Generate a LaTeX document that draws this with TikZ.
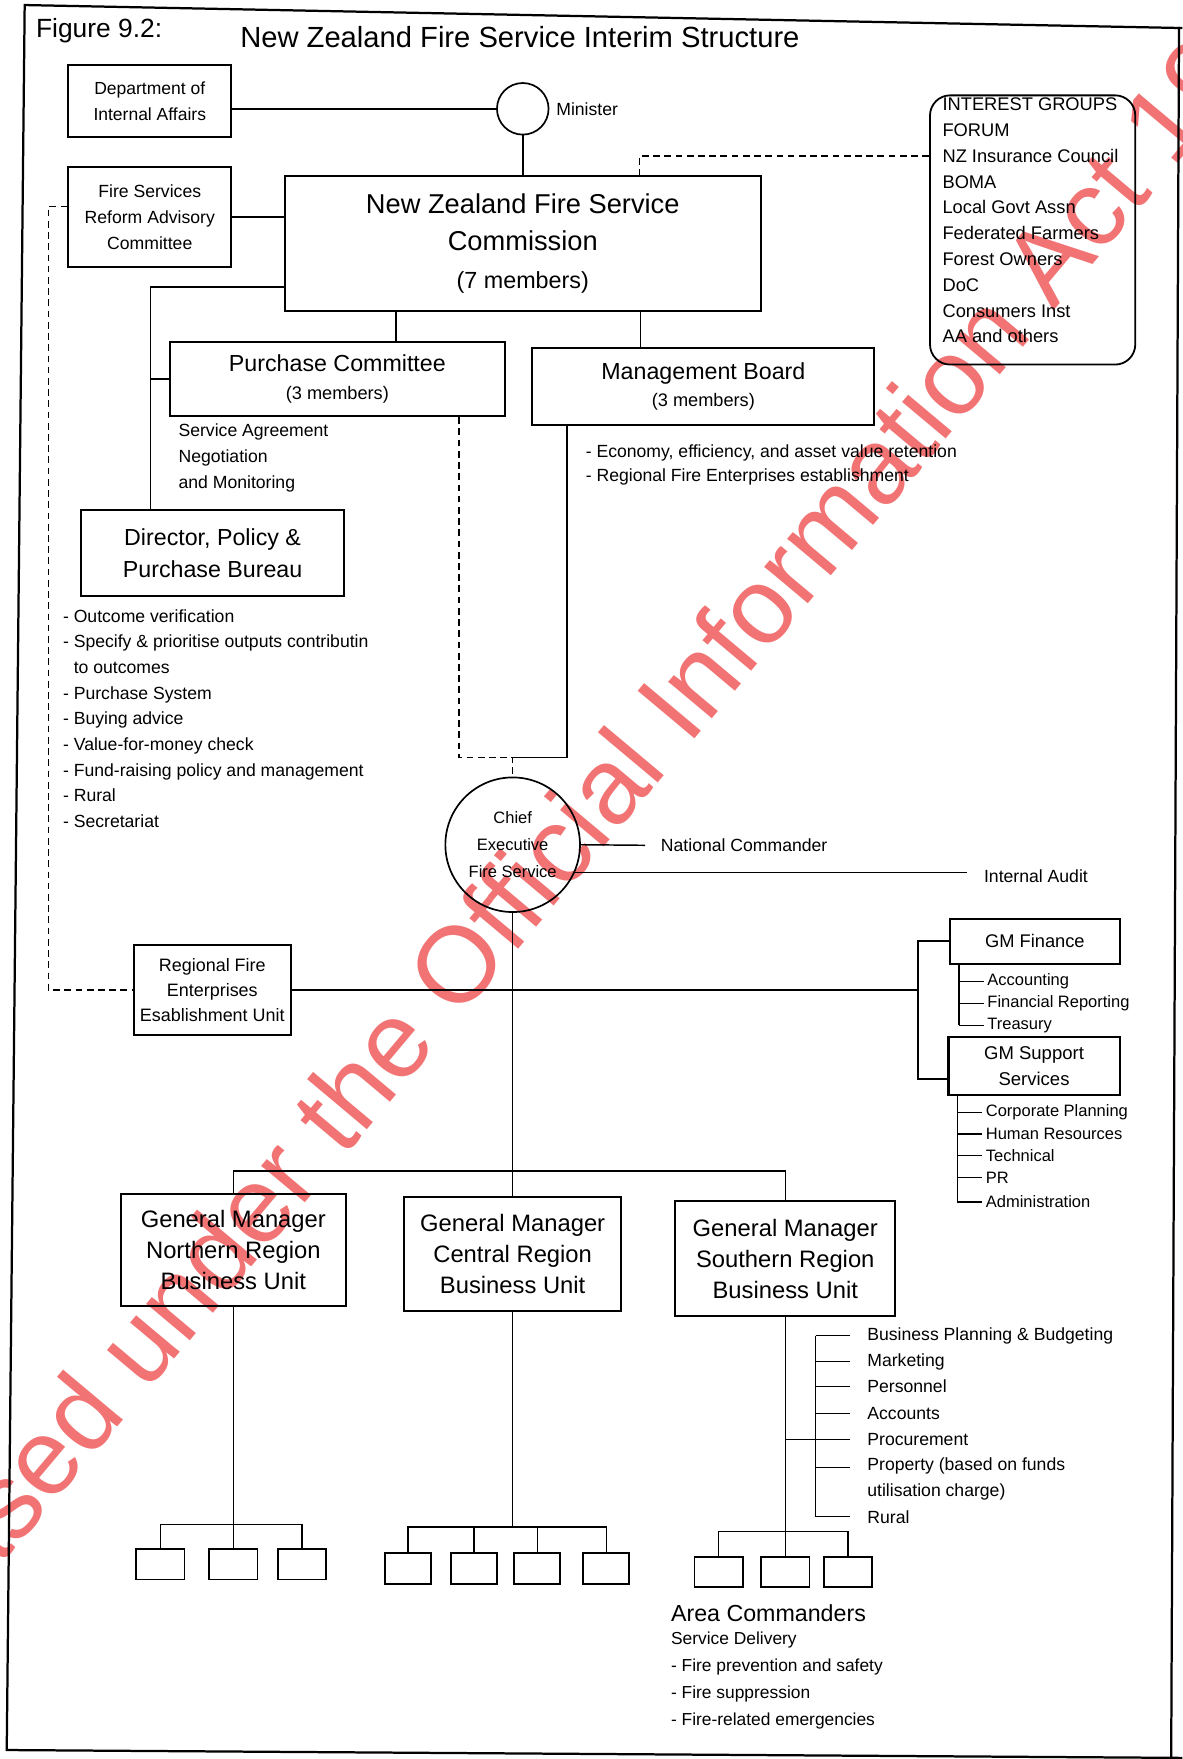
\documentclass[tikz,border=0pt]{standalone}
\usepackage{fontspec}
\setmainfont{Liberation Sans}
\usetikzlibrary{positioning}
\definecolor{tampon}{RGB}{242,115,115}
\begin{document}
\begin{tikzpicture}[x=1pt,y=-1pt]
	\tikzstyle{boite}=[draw, line width=1.8pt, inner sep=0pt, align=center]
	\tikzstyle{lien}=[line width=1.3pt]
	\tikzstyle{pointille}=[line width=1.3pt, dash pattern=on 6pt off 4pt]
	\tikzstyle{texte}=[inner sep=0pt, align=left, font=\fontsize{15.7}{23.3}\selectfont]
	\tikzstyle{petit}=[inner sep=0pt, align=left, font=\fontsize{14.7}{19.5}\selectfont]
	\tikzstyle{case}=[draw, line width=1.6pt, minimum width=43pt, minimum height=27pt]
	\useasboundingbox (0,0) rectangle (1054,1568);
	% tampon
	\node[rotate=50, anchor=base west, inner sep=0pt, text=tampon, font=\fontsize{96}{96}\selectfont] (tampon) at (-147,1572) {Released under the Official Information Act 1982};
	% cadre
	\draw[line width=2pt] (1054,25) -- (22,4.5) -- (6,1560) -- (1054,1567);
	\draw[line width=2pt] (1051,24) -- (1044,1568);
	\node[anchor=base west, inner sep=0pt, font=\fontsize{23.5}{28}\selectfont] (figure) at (32,33) {Figure 9.2:};
	\node[anchor=base west, inner sep=0pt, font=\fontsize{26}{30}\selectfont] (titre) at (214,42) {New Zealand Fire Service Interim Structure};

	% haut
	\node[boite, minimum width=145pt, minimum height=64pt, font=\fontsize{15.6}{23}\selectfont] (dai) at (133.5,90) {Department of\\Internal Affairs};
	\node[draw, circle, line width=1.5pt, minimum size=46pt, inner sep=0pt] (ministre) at (466,97) {};
	\node[texte, right=6pt of ministre] (ministrelbl) {Minister};
	\node[boite, minimum width=145pt, minimum height=89pt, font=\fontsize{15.7}{23.5}\selectfont] (fsrac) at (133.5,193.5) {Fire Services\\Reform Advisory\\Committee};
	\node[boite, minimum width=424pt, minimum height=120pt, font=\fontsize{24.3}{33.5}\selectfont] (commission) at (466,217) {New Zealand Fire Service\\Commission\\{\fontsize{20.8}{33.5}\selectfont (7 members)}};
	\node[draw, line width=1.6pt, rounded corners=18pt, minimum width=183pt, minimum height=240pt] (interets) at (920.5,205) {};
	\node[texte, anchor=west, font=\fontsize{16.3}{23}\selectfont] (groupes) at (840,196.5) {INTEREST GROUPS\\FORUM\\NZ Insurance Council\\BOMA\\Local Govt Assn\\Federated Farmers\\Forest Owners\\DoC\\Consumers Inst\\AA and others};
	\coordinate (coude) at (570,139);
	\draw[pointille] (interets.west |- coude) -- (coude) -- (coude |- commission.north);
	\draw[lien] (dai.east |- ministre.west) -- (ministre.west);
	\draw[lien] (ministre.south) -- (ministre.south |- commission.north);
	\draw[lien] (fsrac.east) -- (fsrac.east -| commission.west);

	% comites
	\node[boite, minimum width=298.5pt, minimum height=66pt, font=\fontsize{20.7}{25}\selectfont] (achat) at (300.75,338) {Purchase Committee\\{\fontsize{16.2}{25}\selectfont (3 members)}};
	\node[boite, minimum width=305pt, minimum height=69pt, font=\fontsize{20.7}{24}\selectfont] (gestion) at (627,344.5) {Management Board\\{\fontsize{16.2}{24}\selectfont (3 members)}};
	\draw[lien] (353,0 |- commission.south) -- (353,0 |- achat.north);
	\draw[lien] (571,0 |- commission.south) -- (571,0 |- gestion.north);
	\node[texte, anchor=west] (accord) at (159,408) {Service Agreement\\Negotiation\\and Monitoring};
	\node[texte, anchor=west, font=\fontsize{15.7}{21.5}\selectfont] (objectifs) at (522,414.5) {- Economy, efficiency, and asset value retention\\- Regional Fire Enterprises establishment};

	% bureau
	\node[boite, minimum width=235pt, minimum height=76pt, font=\fontsize{20.7}{28}\selectfont] (directeur) at (189.5,493) {Director, Policy \&\\Purchase Bureau};
	\node[texte, anchor=west, font=\fontsize{15.7}{22.9}\selectfont] (taches) at (56,640.5) {- Outcome verification\\- Specify \& prioritise outputs contributin\\\phantom{-}\ to outcomes\\- Purchase System\\- Buying advice\\- Value-for-money check\\- Fund-raising policy and management\\- Rural\\- Secretariat};
	\coordinate (epine) at (134,256);
	\draw[lien] (commission.west |- epine) -- (epine) -- (epine |- directeur.north);
	\draw[lien] (epine |- achat.west) -- (achat.west);

	% chef
	\node[draw, circle, line width=1.5pt, minimum size=120pt, inner sep=0pt, align=center, font=\fontsize{14.7}{24}\selectfont] (ceo) at (457,753) {Chief\\Executive\\Fire Service};
	\coordinate (jonction) at (409,675);
	\coordinate (retour) at (505.5,675);
	\draw[pointille] (jonction |- achat.south) -- (jonction) -| (ceo.north);
	\draw[lien] (retour |- gestion.south) -- (retour) -- (retour -| ceo.north);
	\node[texte, anchor=west] (commandant) at (589,753.5) {National Commander};
	\node[texte, anchor=west] (audit) at (877,781) {Internal Audit};
	\draw[lien] (ceo.east) -- ([xshift=-14pt]commandant.west);
	\draw[lien] (ceo.-24) -- (862,0 |- ceo.-24);

	% unite regionale
	\node[boite, minimum width=139.5pt, minimum height=81pt, font=\fontsize{16}{22.5}\selectfont] (reeu) at (189.25,882.5) {Regional Fire\\Enterprises\\Esablishment Unit};
	\coordinate (rail) at (43,184);
	\draw[pointille] (fsrac.west |- rail) -- (rail) -- (rail |- reeu.west) -- (reeu.west);
	\draw[lien] (reeu.east) -- (reeu.east -| 818.5,0);

	% finance et soutien
	\node[boite, minimum width=151pt, minimum height=40pt, font=\fontsize{16.3}{23}\selectfont] (finance) at (922.5,839) {GM Finance};
	\node[boite, minimum width=152.5pt, minimum height=52.5pt, font=\fontsize{16.5}{23}\selectfont] (soutien) at (921.75,950.25) {GM Support\\Services};
	\draw[lien] (finance.west) -| (818.5,962) -- (soutien.west |- 0,962);
	\foreach \y/\nom [count=\i] in {875/Accounting, 894.5/Financial Reporting, 914/Treasury}
		\node[petit, anchor=west] (compta\i) at (880,\y) {\nom};
	\draw[lien] (855,0 |- finance.south) -- (855,0 |- compta3.west);
	\foreach \i in {1,2,3}
		\draw[lien] (855,0 |- compta\i.west) -- ([xshift=-3pt]compta\i.west);
	\foreach \y/\nom [count=\i] in {991.5/Corporate Planning, 1011/Human Resources, 1030/Technical, 1049.5/PR, 1071.5/Administration}
		\node[petit, anchor=west] (appui\i) at (878.6,\y) {\nom};
	\draw[lien] (853.5,0 |- soutien.south) -- (853.5,0 |- appui5.west);
	\foreach \i in {1,...,5}
		\draw[lien] (853.5,0 |- appui\i.west) -- ([xshift=-3pt]appui\i.west);

	% directeurs regionaux
	\node[boite, minimum width=200pt, minimum height=100pt, font=\fontsize{21.2}{27.5}\selectfont] (nord) at (208,1114) {General Manager\\Northern Region\\Business Unit};
	\node[boite, minimum width=193pt, minimum height=102pt, font=\fontsize{21.2}{27.5}\selectfont] (central) at (457,1118) {General Manager\\Central Region\\Business Unit};
	\node[boite, minimum width=196pt, minimum height=102pt, font=\fontsize{21.2}{27.5}\selectfont] (sud) at (700,1122) {General Manager\\Southern Region\\Business Unit};
	\draw[lien] (ceo.south) -- (central.north);
	\coordinate (barre) at (0,1044);
	\draw[lien] (nord.north) |- (barre -| sud.north) -- (sud.north);

	% commandants de secteur
	\foreach \x [count=\i] in {143,208,269}
		\node[case] (n\i) at (\x,1394.5) {};
	\coordinate (barren) at (0,1359);
	\draw[lien] (n1.north) |- (barren -| n3.north) -- (n3.north);
	\draw[lien] (nord.south) -- (n2.north);
	\foreach \x [count=\i] in {363.5,422.5,479,540.5}
		\node[case, minimum width=41pt, minimum height=28pt] (c\i) at (\x,1398) {};
	\coordinate (barrec) at (0,1361);
	\draw[lien] (c1.north) |- (barrec -| c4.north) -- (c4.north);
	\draw[lien] (c2.north) -- (c2.north |- barrec);
	\draw[lien] (c3.north) -- (c3.north |- barrec);
	\draw[lien] (central.south) -- (central.south |- barrec);
	\foreach \x [count=\i] in {640.5,700,756}
		\node[case] (s\i) at (\x,1401.5) {};
	\coordinate (barres) at (0,1365);
	\draw[lien] (s1.north) |- (barres -| s3.north) -- (s3.north);
	\draw[lien] (sud.south) -- (s2.north);

	% fonctions du sud
	\coordinate (rails) at (727,0);
	\foreach \y/\nom [count=\i] in {1190.5/Business Planning \& Budgeting, 1213.7/Marketing, 1236/Personnel, 1260/Accounts, 1283/Procurement, 1352/Rural}
		\node[texte, anchor=west] (f\i) at (773,\y) {\nom};
	\node[texte, anchor=west] (propriete) at (773,1318.5) {Property (based on funds\\utilisation charge)};
	\draw[lien] (rails |- f1.west) -- (rails |- f6.west);
	\foreach \i in {1,...,6}
		\draw[lien] (rails |- f\i.west) -- ([xshift=-15pt]f\i.west);
	\draw[lien] (rails |- 0,1308) -- ([xshift=-15pt]propriete.west |- 0,1308);
	\draw[lien] (sud.south |- f5.west) -- (rails |- f5.west);

	\node[anchor=west, inner sep=0pt, font=\fontsize{20.7}{24}\selectfont] (secteurs) at (598,1438) {Area Commanders};
	\node[texte, anchor=west, font=\fontsize{15.5}{23.8}\selectfont] (missions) at (598,1498) {Service Delivery\\- Fire prevention and safety\\- Fire suppression\\- Fire-related emergencies};
\end{tikzpicture}
\end{document}
